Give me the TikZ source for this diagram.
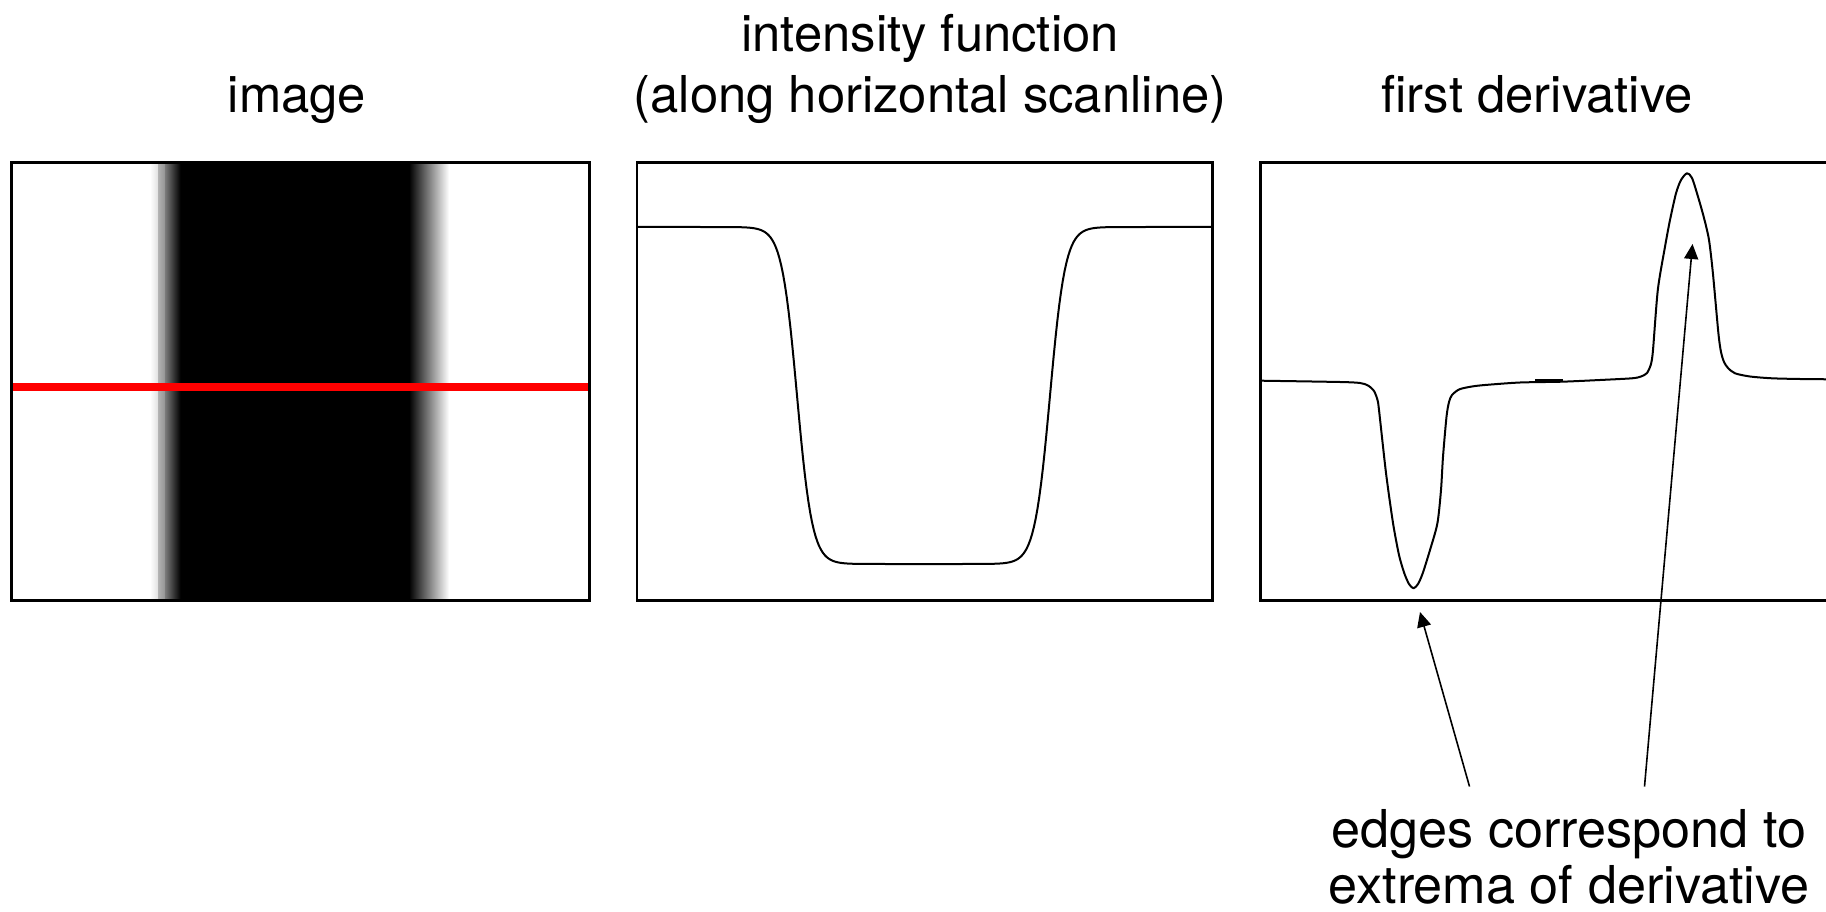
\documentclass[tikz,border=0pt]{standalone}
\usepackage{fontspec}
\setmainfont{TeX Gyre Heros}
\usetikzlibrary{arrows.meta}
\begin{document}
\begin{tikzpicture}[x=1pt,y=-1pt,
  frame/.style={line width=2.2pt, black},
  curve/.style={line width=2pt, black, line join=round, line cap=round},
  title/.style={anchor=base, inner sep=0pt, font=\fontsize{50.8}{55}\selectfont},
  note/.style={anchor=base, inner sep=0pt, align=center, font=\fontsize{52.2}{55.5}\selectfont},
  arr/.style={line width=1.6pt, -{Triangle[length=15pt,width=14pt]}},
  declare function={T(\t)=tanh(max(-7,min(7,\t)));}
]
\useasboundingbox (0,0) rectangle (1826,912);
\fill[white] (0,0) rectangle (1826,912);
\clip (0,0) rectangle (1826,912);

% ---------- titles ----------
\node[title] (tImage) at (297,113) {image};
\node[title] (tInt1) at (930,52) {intensity function};
\node[title] (tInt2) at (930,113) {(along horizontal scanline)};
\node[title] (tDer) at (1537,113) {first derivative};

% ---------- image panel ----------
\fill[black] (180,162.5) rectangle (409,600.5);
\shade[left color=white, right color=black!12] (150,162.5) rectangle (158,600.5);
\shade[left color=black!30, right color=black!42] (158,162.5) rectangle (165,600.5);
\shade[left color=black!52, right color=black] (165,162.5) rectangle (180.5,600.5);
\shade[left color=black, right color=white] (409,162.5) rectangle (449,600.5);
\fill[red] (11.5,382.7) rectangle (589.5,390.7);
\draw[frame] (11.5,162.5) rectangle (589.5,600.5);

% ---------- intensity panel ----------
\draw[curve] plot[domain=637:1212.5, samples=320, variable=\x]
  (\x, {227+168.5*(T(0.065*(\x-797))-T(0.065*(\x-1050)))});
\draw[frame] (637,162.5) rectangle (1212.5,600.5);

% ---------- derivative panel ----------
\draw[curve] plot[smooth, tension=0.45] coordinates {
  (1261,380.7) (1340,382) (1360,383) (1368,385.5) (1374,391) (1377.5,400)
  (1379,410) (1386,473) (1393,523) (1399,555) (1404.3,573.3) (1409,584)
  (1413.5,588.3) (1418,584) (1422.7,573.3) (1430,550) (1437.4,523.3)
  (1441,490) (1443,456.7) (1446.5,416.7) (1449,402) (1452,395) (1459.4,389.3)
  (1472,386.5) (1485,385) (1520,382.5) (1562,381.7) (1600,380) (1632,378.3)
  (1641,376.5) (1647,373) (1651,364) (1653,350) (1657.8,290) (1665,246.7)
  (1670,220) (1676,193.3) (1681,180) (1687,173.3) (1692,178) (1698,196.7)
  (1704,218) (1709,240) (1712.9,273.3) (1718.4,333.3) (1721,352) (1724,362)
  (1728,368) (1735,373.3) (1750,376.5) (1772,378.3) (1800,379) (1830,379.3)};
\draw[line width=3pt] (1535,380.8) -- (1563,380.8);
\draw[frame] (1900,162.5) -- (1260.5,162.5) -- (1260.5,600.5) -- (1900,600.5);

% ---------- annotation ----------
\node[note] (note) at (1569,903) {edges correspond to\\extrema of derivative};
\coordinate (tailL) at (1469.5,786.5);
\coordinate (tipL) at (1420,612);
\coordinate (tailR) at (1644.5,786.5);
\coordinate (tipR) at (1692.5,244);
\draw[arr] (tailL) -- (tipL);
\draw[arr] (tailR) -- (tipR);
\end{tikzpicture}
\end{document}
